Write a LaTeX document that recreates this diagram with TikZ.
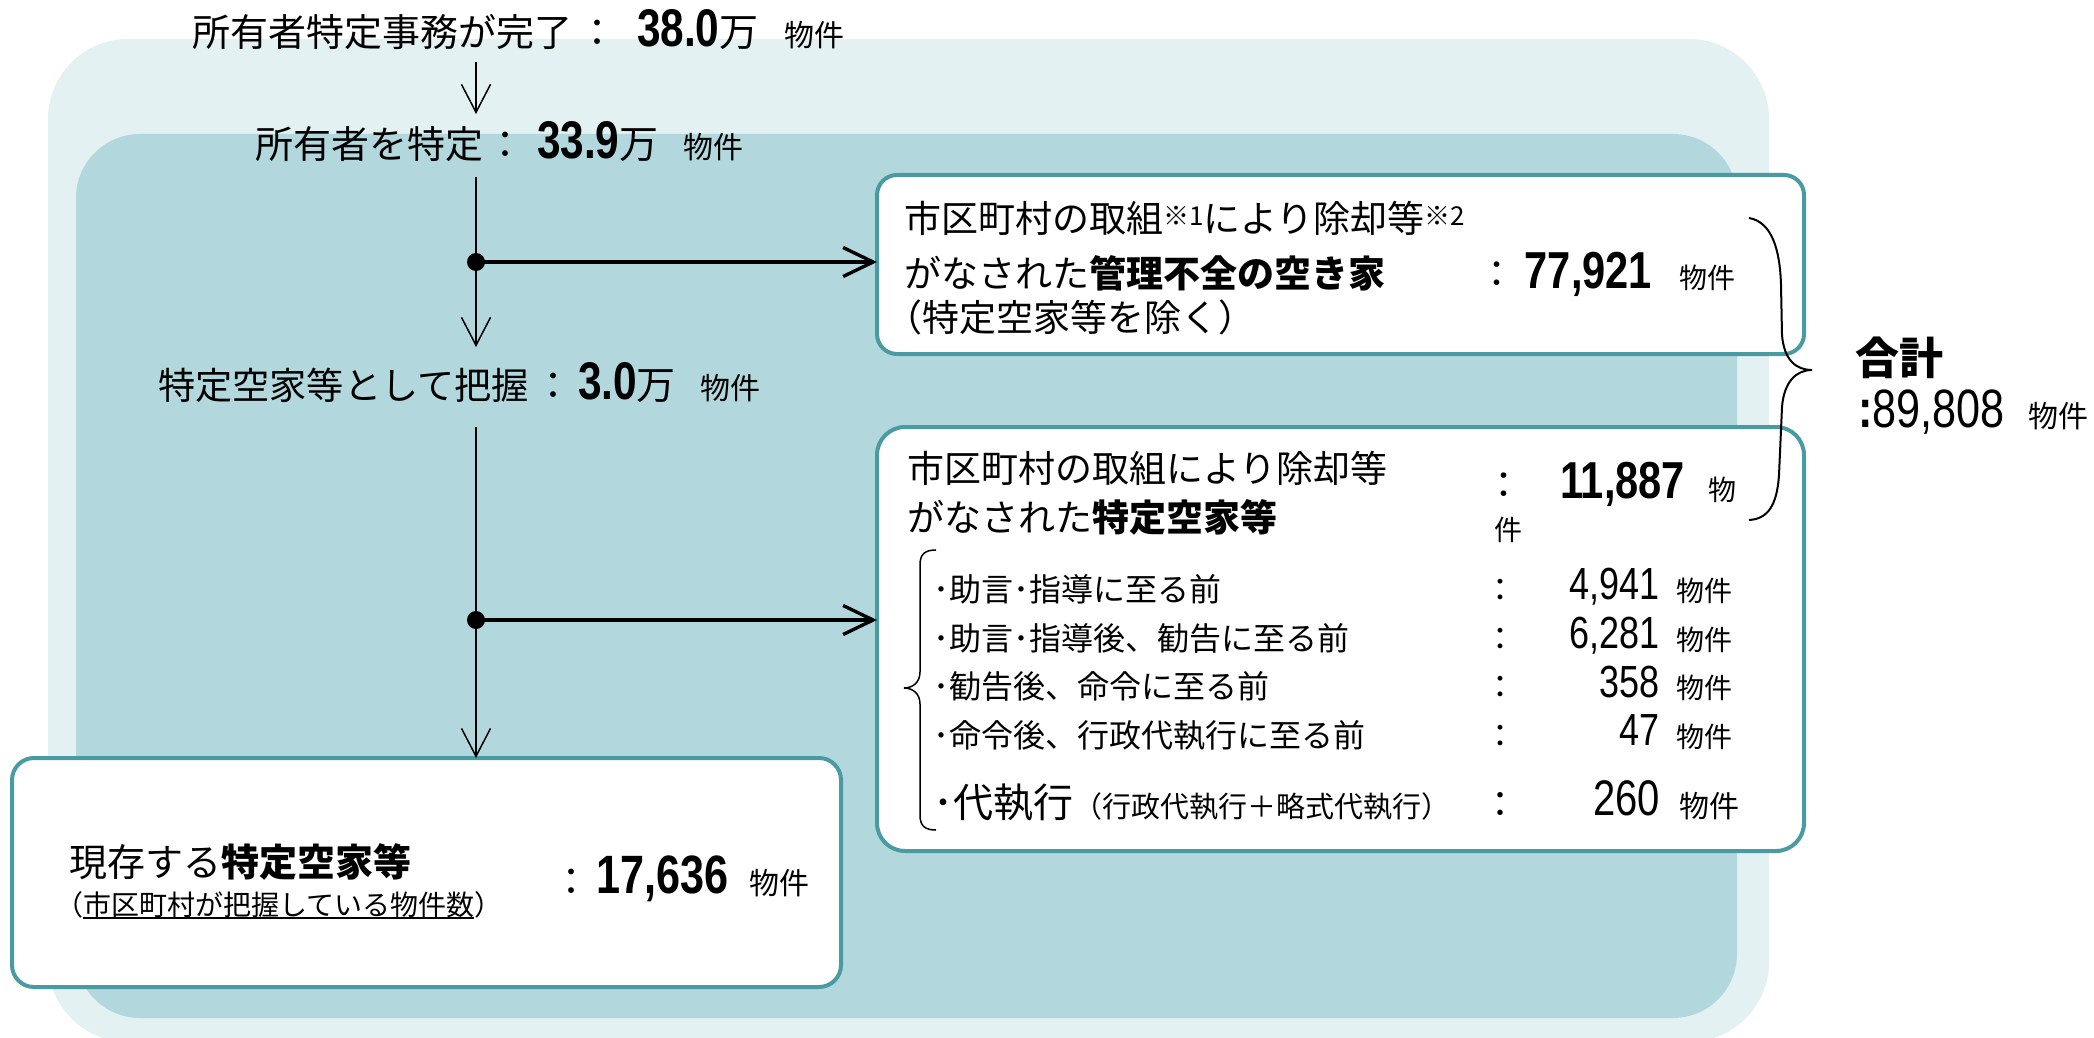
\documentclass[tikz,border=0pt]{standalone}
\usepackage{fontspec}
\setmainfont{Noto Sans CJK JP}
\newfontfamily\numf[FakeStretch=0.8]{Liberation Sans}
\usetikzlibrary{arrows.meta}
\definecolor{bgout}{HTML}{E3F1F2}
\definecolor{bgin}{HTML}{B2D8DD}
\definecolor{bord}{HTML}{4A9BA1}
\newcommand{\fsz}[1]{\fontsize{#1}{#1}\selectfont}
\newcommand{\ulx}[1]{\setbox0=\hbox{#1}\rlap{\rule[-2.2pt]{\wd0}{1pt}}\box0}
\begin{document}
\begin{tikzpicture}[x=0.5pt,y=-0.5pt,
  txt/.style={inner sep=0pt, outer sep=0pt, anchor=base west},
  txtc/.style={inner sep=0pt, outer sep=0pt, anchor=base},
  txte/.style={inner sep=0pt, outer sep=0pt, anchor=base east},
  box/.style={draw=bord, line width=2pt, fill=white, inner sep=0pt, outer sep=0pt, rounded corners=10pt},
  trunkline/.style={line width=0.75pt},
  trunk/.style={line width=0.75pt, -{Straight Barb[length=14pt,width=14.5pt]}},
  branch/.style={line width=1.7pt, -{Straight Barb[length=15pt,width=14.5pt]}},
  dot/.style={circle, fill=black, inner sep=0pt, minimum size=9pt},
  brace/.style={line width=1pt},
]
\useasboundingbox (0,0) rectangle (2094,1038);
\clip (0,0) rectangle (2094,1038);
% backgrounds
\fill[bgout, rounded corners=40pt] (48,39) rectangle (1769,1042);
\fill[bgin, rounded corners=32pt] (76,134) rectangle (1737,1018);
% boxes
\node[box, minimum width=463.5pt, minimum height=89.5pt] (box1) at (1340.5,264.5) {};
\node[box, rounded corners=14pt, minimum width=463.5pt, minimum height=212pt] (box2) at (1340.5,639) {};
\node[box, rounded corners=11pt, minimum width=414.5pt, minimum height=114.5pt] (box3) at (426.5,872.5) {};
% titles
\node[txt] (t1) at (192,47) {\fsz{19pt}所有者特定事務が完了};
\node[txtc] (t1c) at (597,47) {\fsz{19pt}：};
\node[txt] (t1n) at (637,47) {\numf\bfseries\fsz{26.5pt}38.0};
\node[txt] (t1m) at (t1n.base east) {\fsz{19.5pt}万};
\node[txt] (t1u) at (784,47) {\fsz{15pt}物件};
\node[txt] (t2) at (255,159) {\fsz{19pt}所有者を特定};
\node[txtc] (t2c) at (505,159) {\fsz{19pt}：};
\node[txt] (t2n) at (537,159) {\numf\bfseries\fsz{26.5pt}33.9};
\node[txt] (t2m) at (t2n.base east) {\fsz{19.5pt}万};
\node[txt] (t2u) at (683,159) {\fsz{15pt}物件};
\node[txt] (t3) at (158,399) {\fsz{18.6pt}特定空家等として把握};
\node[txtc] (t3c) at (553,399) {\fsz{19pt}：};
\node[txt] (t3n) at (578,399) {\numf\bfseries\fsz{26.5pt}3.0};
\node[txt] (t3m) at (t3n.base east) {\fsz{19.5pt}万};
\node[txt] (t3u) at (700,399) {\fsz{15pt}物件};
% box 1 text
\node[txt] (b1l1) at (904,232) {\fsz{18.5pt}市区町村の取組\raisebox{3pt}{\fsz{13pt}※1}により除却等\raisebox{3pt}{\fsz{13pt}※2}};
\node[txt] (b1l2) at (904,287) {\fsz{18.5pt}がなされた{\bfseries 管理不全の空き家}};
\node[txtc] (b1c) at (1497,287) {\fsz{18.5pt}：};
\node[txte] (b1n) at (1652,288) {\numf\bfseries\fsz{26pt}77,921};
\node[txt] (b1u) at (1679,288) {\fsz{14pt}物件};
\node[txt] (b1l3) at (885,331) {\fsz{18.5pt}（特定空家等を除く）};
% box 2 text
\node[txt] (b2l1) at (907,482) {\fsz{18.5pt}市区町村の取組により除却等};
\node[txt] (b2l2) at (907,531) {\fsz{18.5pt}がなされた{\bfseries 特定空家等}};
\node[txtc] (b2c) at (1504,498) {\fsz{18.5pt}：};
\node[txte] (b2n) at (1685,498) {\numf\bfseries\fsz{26pt}11,887};
\node[txt] (b2u1) at (1708,500) {\fsz{14pt}物};
\node[txt] (b2u2) at (1494,540) {\fsz{14pt}件};
\node[txt] (i1) at (933,601) {\fsz{16pt}･助言･指導に至る前};
\node[txt] (i2) at (933,650) {\fsz{16pt}･助言･指導後、勧告に至る前};
\node[txt] (i3) at (933,698) {\fsz{16pt}･勧告後、命令に至る前};
\node[txt] (i4) at (933,747) {\fsz{16pt}･命令後、行政代執行に至る前};
\node[txt] (i5) at (933,817) {\fsz{20pt}･代執行{\fsz{14.5pt}（行政代執行＋略式代執行）}};
\node[txtc] (c1) at (1500,601) {\fsz{16pt}：};
\node[txtc] (c2) at (1500,650) {\fsz{16pt}：};
\node[txtc] (c3) at (1500,698) {\fsz{16pt}：};
\node[txtc] (c4) at (1500,747) {\fsz{16pt}：};
\node[txtc] (c5) at (1500,817) {\fsz{18pt}：};
\node[txte] (n1) at (1660,599) {\numf\fsz{22.5pt}4,941};
\node[txte] (n2) at (1660,648) {\numf\fsz{22.5pt}6,281};
\node[txte] (n3) at (1660,697) {\numf\fsz{22.5pt}358};
\node[txte] (n4) at (1660,745) {\numf\fsz{22.5pt}47};
\node[txte] (n5) at (1660,815) {\numf\fsz{25pt}260};
\node[txt] (u1) at (1676,601) {\fsz{14pt}物件};
\node[txt] (u2) at (1676,650) {\fsz{14pt}物件};
\node[txt] (u3) at (1676,698) {\fsz{14pt}物件};
\node[txt] (u4) at (1676,747) {\fsz{14pt}物件};
\node[txt] (u5) at (1679,817) {\fsz{15pt}物件};
% box 3 text
\node[txt] (b3l1) at (69,876) {\fsz{19pt}現存する{\bfseries 特定空家等}};
\node[txt] (b3l2) at (55,915) {\fsz{14pt}（\ulx{市区町村が把握している物件数}）};
\node[txtc] (b3c) at (571,895) {\fsz{19pt}：};
\node[txte] (b3n) at (729,893) {\numf\bfseries\fsz{27pt}17,636};
\node[txt] (b3u) at (749,894) {\fsz{15pt}物件};
% total
\node[txt] (sumj) at (1855,374) {\bfseries\fsz{22pt}合計};
\node[txt] (sumn) at (1858,427) {\numf\fsz{27pt}{\bfseries :}89,808};
\node[txt] (sumu) at (2028,427) {\fsz{15pt}物件};
% braces
\draw[brace] (1749,218) .. controls (1772,222) and (1780,250) .. (1781,285)
  -- (1782,335) .. controls (1784,360) and (1796,370) .. (1812,370)
  .. controls (1796,370) and (1784,382) .. (1782,407)
  -- (1779,475) .. controls (1777,505) and (1768,519) .. (1749,520);
\draw[line width=0.75pt] (936,550) .. controls (925,550) and (920,554) .. (920,565)
  -- (920,672) .. controls (920,683) and (912,688) .. (904,688)
  .. controls (912,688) and (920,693) .. (920,704)
  -- (920,815) .. controls (920,826) and (925,830) .. (936,830);
% flow
\coordinate (a1s) at (476,62);
\coordinate (a1e) at (476,114);
\coordinate (a2s) at (476,177);
\coordinate (a2e) at (476,347);
\coordinate (a3s) at (476,427);
\coordinate (j1) at (476,262);
\coordinate (j2) at (476,620);
\draw[trunk] (a1s) -- (a1e);
\draw[trunkline] (a2s) -- (j1);
\draw[trunk] (j1) -- (a2e);
\draw[trunkline] (a3s) -- (j2);
\draw[trunk] (j2) -- (j2 |- box3.north);
\draw[branch] (j1) -- (j1 -| box1.west);
\draw[branch] (j2) -- (j2 -| box2.west);
\node[dot] (d1) at (j1) {};
\node[dot] (d2) at (j2) {};
\end{tikzpicture}
\end{document}
